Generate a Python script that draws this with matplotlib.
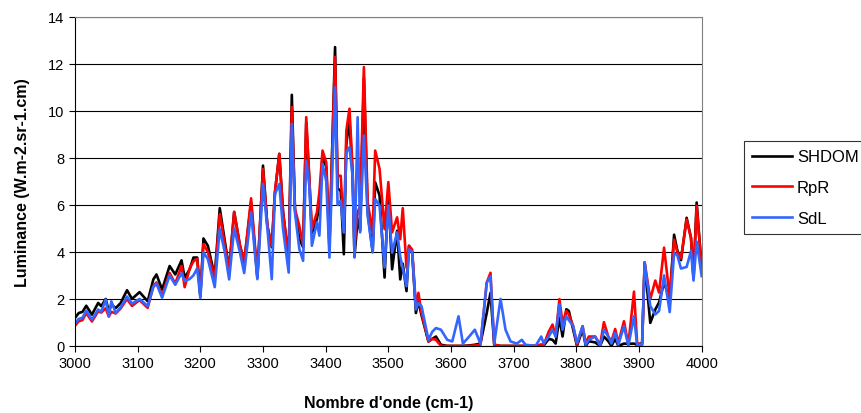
import matplotlib
matplotlib.use('Agg')
import matplotlib.pyplot as plt

plt.rcParams['font.family'] = ['Liberation Sans', 'DejaVu Sans']

# wavenumber (cm-1)
wavenumber = [3000, 3006, 3012, 3018, 3027, 3037, 3042, 3049, 3054, 3058,
              3065, 3073, 3083, 3091, 3103, 3116, 3125, 3130, 3139, 3151,
              3160, 3170, 3175, 3183, 3189, 3195, 3200, 3205, 3212, 3223,
              3231, 3239, 3246, 3254, 3263, 3270, 3281, 3291, 3300, 3307,
              3314, 3319, 3326, 3332, 3341, 3346, 3351, 3358, 3364, 3369,
              3374, 3378, 3386, 3390, 3395, 3401, 3406, 3415, 3419, 3424,
              3429, 3433, 3438, 3443, 3446, 3451, 3455, 3461, 3467, 3475,
              3479, 3486, 3494, 3500, 3506, 3514, 3519, 3523, 3529, 3533,
              3538, 3544, 3548, 3553, 3564, 3570, 3576, 3584, 3594, 3602,
              3612, 3619, 3629, 3638, 3647, 3657, 3663, 3669, 3679, 3687,
              3695, 3705, 3713, 3719, 3735, 3744, 3748, 3756, 3762, 3767,
              3773, 3778, 3784, 3788, 3795, 3801, 3810, 3815, 3820, 3830,
              3838, 3844, 3851, 3856, 3862, 3867, 3876, 3883, 3892, 3897,
              3905, 3909, 3918, 3926, 3932, 3940, 3949, 3956, 3961, 3967,
              3976, 3983, 3987, 3992, 4000]

shdom = [1.19, 1.40, 1.45, 1.71, 1.33, 1.83, 1.69, 2.00, 1.47, 1.76,
         1.61, 1.83, 2.37, 2.00, 2.29, 1.90, 2.83, 3.04, 2.40, 3.40,
         3.04, 3.64, 2.90, 3.26, 3.76, 3.76, 2.11, 4.57, 4.26, 2.97,
         5.86, 4.47, 3.26, 5.70, 4.30, 3.55, 6.10, 2.90, 7.67, 5.10,
         4.20, 6.50, 8.17, 5.70, 3.70, 10.68, 5.80, 4.55, 4.20, 9.50,
         7.00, 4.80, 5.40, 6.00, 8.10, 7.60, 4.20, 12.71, 6.70, 6.60,
         3.90, 8.60, 9.60, 7.20, 3.80, 5.40, 4.90, 11.40, 5.70, 4.00,
         6.96, 6.40, 2.91, 6.50, 3.26, 4.90, 2.83, 3.50, 2.33, 4.26,
         4.00, 1.40, 1.90, 1.30, 0.19, 0.30, 0.40, 0.05, 0.00, 0.00,
         0.00, 0.00, 0.02, 0.05, 0.10, 1.40, 2.26, 0.05, 0.00, 0.00,
         0.00, 0.00, 0.00, 0.00, 0.00, 0.05, 0.02, 0.30, 0.26, 0.10,
         1.20, 0.40, 1.56, 1.49, 0.69, 0.00, 0.70, 0.00, 0.20, 0.15,
         0.00, 0.40, 0.20, 0.00, 0.30, 0.00, 0.10, 0.09, 0.10, 0.05,
         0.12, 3.55, 0.98, 1.55, 1.85, 2.70, 1.99, 4.73, 4.08, 3.65,
         5.45, 4.59, 2.93, 6.10, 3.29]

rpr = [0.86, 1.05, 1.10, 1.40, 1.04, 1.47, 1.42, 1.60, 1.25, 1.45,
       1.38, 1.60, 2.00, 1.70, 1.95, 1.62, 2.55, 2.70, 2.15, 3.10,
       2.65, 3.40, 2.50, 3.30, 3.60, 3.70, 2.20, 4.33, 4.00, 2.85,
       5.61, 4.30, 3.30, 5.70, 4.30, 3.55, 6.28, 3.00, 7.53, 5.10,
       4.26, 6.53, 8.17, 5.68, 3.69, 10.16, 5.82, 5.10, 4.26, 9.73,
       7.10, 4.97, 5.68, 6.53, 8.31, 7.80, 4.40, 12.29, 7.24, 7.24,
       4.83, 9.16, 10.09, 7.53, 4.26, 5.68, 5.97, 11.86, 6.10, 4.83,
       8.31, 7.53, 4.97, 6.97, 4.83, 5.47, 4.54, 5.86, 3.33, 4.26,
       4.10, 1.69, 2.26, 1.40, 0.19, 0.30, 0.26, 0.00, 0.00, 0.00,
       0.00, 0.00, 0.00, 0.02, 0.05, 2.69, 3.11, 0.05, 0.00, 0.00,
       0.00, 0.00, 0.00, 0.00, 0.00, 0.05, 0.05, 0.61, 0.91, 0.40,
       1.99, 0.98, 1.49, 1.34, 0.84, 0.05, 0.84, 0.12, 0.40, 0.40,
       0.05, 1.01, 0.40, 0.19, 0.72, 0.12, 1.05, 0.05, 2.31, 0.12,
       0.05, 3.55, 1.99, 2.78, 2.27, 4.18, 2.06, 4.52, 4.01, 3.72,
       5.38, 4.59, 2.86, 5.96, 3.29]

sdl = [0.97, 1.15, 1.20, 1.50, 1.12, 1.55, 1.45, 1.97, 1.26, 1.90,
       1.40, 1.65, 2.10, 1.80, 2.00, 1.70, 2.50, 2.65, 2.05, 3.00,
       2.60, 3.10, 2.75, 2.85, 3.00, 3.30, 2.04, 3.97, 3.70, 2.50,
       4.97, 4.00, 2.83, 5.00, 4.00, 3.10, 5.68, 2.84, 6.89, 5.00,
       2.84, 6.46, 6.89, 4.97, 3.12, 9.45, 5.68, 4.12, 3.62, 7.88,
       6.80, 4.26, 5.26, 4.69, 7.74, 7.00, 3.76, 11.00, 6.00, 6.18,
       4.83, 8.24, 8.45, 7.20, 3.76, 9.73, 4.83, 8.95, 5.54, 3.98,
       6.25, 5.97, 3.34, 5.97, 3.97, 4.83, 3.80, 3.30, 2.54, 4.11,
       4.00, 1.55, 1.83, 1.69, 0.26, 0.60, 0.76, 0.69, 0.26, 0.19,
       1.26, 0.10, 0.40, 0.69, 0.10, 2.69, 2.97, 0.10, 2.00, 0.69,
       0.19, 0.10, 0.26, 0.05, 0.00, 0.40, 0.10, 0.40, 0.69, 0.40,
       1.77, 0.69, 1.27, 1.10, 0.84, 0.12, 0.84, 0.05, 0.26, 0.40,
       0.00, 0.69, 0.40, 0.10, 0.55, 0.05, 0.84, 0.00, 1.27, 0.05,
       0.05, 3.55, 1.70, 1.34, 1.49, 3.00, 1.44, 3.94, 3.87, 3.29,
       3.36, 4.04, 2.78, 4.44, 2.97]

fig = plt.figure(figsize=(8.62, 4.14), dpi=100)
ax = fig.add_axes([0.087, 0.162, 0.727, 0.795])

ax.plot(wavenumber, shdom, color='black', linewidth=1.9, label='SHDOM')
ax.plot(wavenumber, rpr, color='#ff0000', linewidth=1.9, label='RpR')
ax.plot(wavenumber, sdl, color='#3366ff', linewidth=1.9, label='SdL')

ax.set_xlim(3000, 4000)
ax.set_ylim(0, 14)
ax.set_xticks(range(3000, 4001, 100))
ax.set_yticks(range(0, 15, 2))
ax.grid(axis='y', color='black', linewidth=0.8)
ax.set_axisbelow(True)

for side in ['top', 'right']:
    ax.spines[side].set_color('#808080')
ax.spines['left'].set_color('black')
ax.spines['bottom'].set_color('black')
ax.tick_params(direction='out', length=4, width=0.8, labelsize=10.5)

ax.set_xlabel("Nombre d'onde (cm-1)", fontsize=11.5, fontweight='bold', labelpad=18)
ax.set_ylabel('Luminance (W.m-2.sr-1.cm)', fontsize=11.5, fontweight='bold', labelpad=13)

leg = ax.legend(loc='upper left', bbox_to_anchor=(0.853, 0.677),
                bbox_transform=fig.transFigure, fontsize=12, frameon=True,
                fancybox=False, edgecolor='black', handlelength=2.4,
                borderpad=0.5, labelspacing=0.95, handletextpad=0.3)
leg.get_frame().set_linewidth(0.8)

fig.savefig('out.png', dpi=100, facecolor='white')
